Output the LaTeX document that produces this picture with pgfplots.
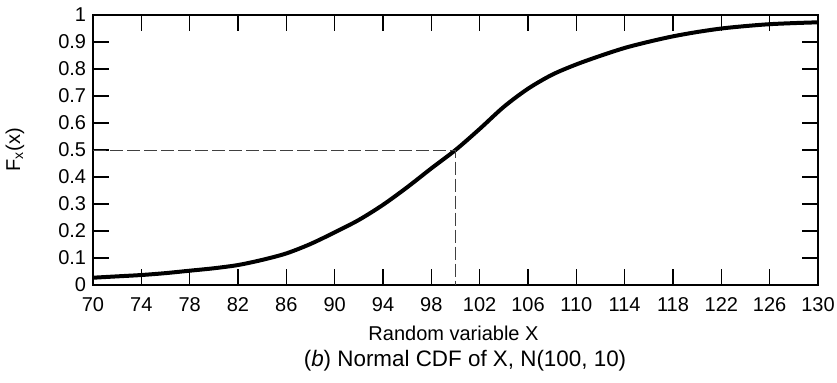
\documentclass[border=0pt]{standalone}
\usepackage{pgfplots}
\pgfplotsset{compat=1.18}
\usepackage{fontspec}
\setmainfont{Liberation Sans}
\begin{document}
\fontsize{9.75}{11.5}\selectfont
\begin{tikzpicture}[font=\fontsize{9.75}{11.5}\selectfont]
\begin{axis}[
  scale only axis,
  width=362.5pt, height=135pt,
  xmin=70, xmax=130, ymin=0, ymax=1,
  xtick={70,74,...,130},
  ytick={0,0.1,...,1.01},
  yticklabels={0,0.1,0.2,0.3,0.4,0.5,0.6,0.7,0.8,0.9,1},
  tick align=inside,
  major tick length=7.8pt,
  tick style={line width=0.6pt, black},
  axis line style={line width=1pt},
  /pgf/number format/assume math mode=true,
  tick label style={font=\fontsize{10}{12}\selectfont},
  xticklabel style={anchor=base, yshift=-13pt},
  xlabel={Random variable X},
  ylabel={F\textsubscript{x}(x)},
  every axis x label/.style={at={(axis description cs:0.5,0)}, anchor=base, yshift=-27.5pt, xshift=-1pt, font=\fontsize{10}{12}\selectfont},
  every axis y label/.style={at={(axis description cs:0,0.5)}, xshift=-39pt, rotate=90, anchor=center, font=\fontsize{10}{12}\selectfont},
  clip=false,
]
\addplot[black, line width=2pt, smooth, tension=0.5] coordinates {
(70,0.027) (72,0.032) (74,0.037) (76,0.044) (78,0.053) (80,0.062) (82,0.074)
(84,0.093) (86,0.117) (88,0.152) (90,0.195) (92,0.241) (94,0.297) (96,0.362)
(98,0.432) (100,0.500) (102,0.578) (104,0.660) (106,0.727) (108,0.779) (110,0.817)
(112,0.849) (114,0.878) (116,0.901) (118,0.921) (120,0.937) (122,0.950) (124,0.959)
(126,0.966) (128,0.970) (130,0.973)
};
\addplot[black!75, line width=0.5pt, dash pattern=on 6.5pt off 2pt] coordinates {(70,0.5) (100,0.5) (100,0)};
\node[anchor=base, font=\fontsize{11.2}{13}\selectfont] at (axis description cs:0.5,0) [yshift=-40.5pt, xshift=4.75pt] {(\textit{b}) Normal CDF of X, N(100, 10)};
\end{axis}
\pgfresetboundingbox
\useasboundingbox (current axis.south west) ++(-46.5pt,-48.5pt) rectangle ([xshift=9.5pt,yshift=7.5pt]current axis.north east);
\end{tikzpicture}
\end{document}
